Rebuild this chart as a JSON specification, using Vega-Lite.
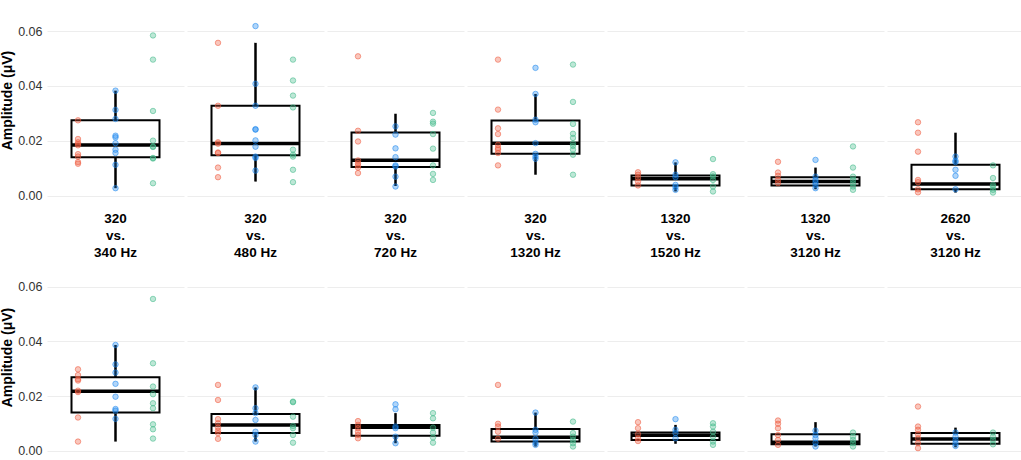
{
  "$schema": "https://vega.github.io/schema/vega-lite/v6.json",
  "background": "white",
  "padding": {"left": 0, "top": 0, "right": 0, "bottom": 0},
  "spacing": 0,
  "datasets": {
    "amp": [
      {"r": "top", "pair": "320 vs. 340 Hz", "lo": 0.0028, "q1": 0.0141, "med": 0.0185, "q3": 0.0275, "hi": 0.0383},
      {"r": "top", "pair": "320 vs. 480 Hz", "lo": 0.0052, "q1": 0.0148, "med": 0.0191, "q3": 0.0328, "hi": 0.0557},
      {"r": "top", "pair": "320 vs. 720 Hz", "lo": 0.0036, "q1": 0.0105, "med": 0.013, "q3": 0.0231, "hi": 0.0299},
      {"r": "top", "pair": "320 vs. 1320 Hz", "lo": 0.0077, "q1": 0.0153, "med": 0.0192, "q3": 0.0274, "hi": 0.0371},
      {"r": "top", "pair": "1320 vs. 1520 Hz", "lo": 0.0016, "q1": 0.0038, "med": 0.0062, "q3": 0.0074, "hi": 0.0122},
      {"r": "top", "pair": "1320 vs. 3120 Hz", "lo": 0.0024, "q1": 0.0038, "med": 0.0052, "q3": 0.0068, "hi": 0.0103},
      {"r": "top", "pair": "2620 vs. 3120 Hz", "lo": 0.0012, "q1": 0.0024, "med": 0.0043, "q3": 0.0113, "hi": 0.023},
      {"r": "bottom", "pair": "320 vs. 340 Hz", "lo": 0.0034, "q1": 0.014, "med": 0.0218, "q3": 0.0269, "hi": 0.0387},
      {"r": "bottom", "pair": "320 vs. 480 Hz", "lo": 0.0034, "q1": 0.0065, "med": 0.0095, "q3": 0.0135, "hi": 0.0232},
      {"r": "bottom", "pair": "320 vs. 720 Hz", "lo": 0.0028, "q1": 0.0055, "med": 0.0086, "q3": 0.0095, "hi": 0.0138},
      {"r": "bottom", "pair": "320 vs. 1320 Hz", "lo": 0.0016, "q1": 0.0034, "med": 0.005, "q3": 0.008, "hi": 0.014},
      {"r": "bottom", "pair": "1320 vs. 1520 Hz", "lo": 0.0026, "q1": 0.004, "med": 0.0057, "q3": 0.0067, "hi": 0.0095},
      {"r": "bottom", "pair": "1320 vs. 3120 Hz", "lo": 0.0016, "q1": 0.0024, "med": 0.0032, "q3": 0.0061, "hi": 0.0105},
      {"r": "bottom", "pair": "2620 vs. 3120 Hz", "lo": 0.0013, "q1": 0.0026, "med": 0.0043, "q3": 0.0065, "hi": 0.0085},

      {"r": "top", "pair": "320 vs. 340 Hz", "g": "g1", "v": 0.0275},
      {"r": "top", "pair": "320 vs. 340 Hz", "g": "g1", "v": 0.0207},
      {"r": "top", "pair": "320 vs. 340 Hz", "g": "g1", "v": 0.0195},
      {"r": "top", "pair": "320 vs. 340 Hz", "g": "g1", "v": 0.0189},
      {"r": "top", "pair": "320 vs. 340 Hz", "g": "g1", "v": 0.0184},
      {"r": "top", "pair": "320 vs. 340 Hz", "g": "g1", "v": 0.0152},
      {"r": "top", "pair": "320 vs. 340 Hz", "g": "g1", "v": 0.0143},
      {"r": "top", "pair": "320 vs. 340 Hz", "g": "g1", "v": 0.0123},
      {"r": "top", "pair": "320 vs. 340 Hz", "g": "g1", "v": 0.0117},
      {"r": "top", "pair": "320 vs. 340 Hz", "g": "g2", "v": 0.0383},
      {"r": "top", "pair": "320 vs. 340 Hz", "g": "g2", "v": 0.0313},
      {"r": "top", "pair": "320 vs. 340 Hz", "g": "g2", "v": 0.028},
      {"r": "top", "pair": "320 vs. 340 Hz", "g": "g2", "v": 0.0219},
      {"r": "top", "pair": "320 vs. 340 Hz", "g": "g2", "v": 0.0213},
      {"r": "top", "pair": "320 vs. 340 Hz", "g": "g2", "v": 0.0192},
      {"r": "top", "pair": "320 vs. 340 Hz", "g": "g2", "v": 0.0168},
      {"r": "top", "pair": "320 vs. 340 Hz", "g": "g2", "v": 0.0156},
      {"r": "top", "pair": "320 vs. 340 Hz", "g": "g2", "v": 0.0113},
      {"r": "top", "pair": "320 vs. 340 Hz", "g": "g2", "v": 0.0028},
      {"r": "top", "pair": "320 vs. 340 Hz", "g": "g3", "v": 0.0584},
      {"r": "top", "pair": "320 vs. 340 Hz", "g": "g3", "v": 0.0496},
      {"r": "top", "pair": "320 vs. 340 Hz", "g": "g3", "v": 0.0309},
      {"r": "top", "pair": "320 vs. 340 Hz", "g": "g3", "v": 0.0201},
      {"r": "top", "pair": "320 vs. 340 Hz", "g": "g3", "v": 0.018},
      {"r": "top", "pair": "320 vs. 340 Hz", "g": "g3", "v": 0.0178},
      {"r": "top", "pair": "320 vs. 340 Hz", "g": "g3", "v": 0.0138},
      {"r": "top", "pair": "320 vs. 340 Hz", "g": "g3", "v": 0.0136},
      {"r": "top", "pair": "320 vs. 340 Hz", "g": "g3", "v": 0.0046},

      {"r": "top", "pair": "320 vs. 480 Hz", "g": "g1", "v": 0.0557},
      {"r": "top", "pair": "320 vs. 480 Hz", "g": "g1", "v": 0.0328},
      {"r": "top", "pair": "320 vs. 480 Hz", "g": "g1", "v": 0.0195},
      {"r": "top", "pair": "320 vs. 480 Hz", "g": "g1", "v": 0.019},
      {"r": "top", "pair": "320 vs. 480 Hz", "g": "g1", "v": 0.0158},
      {"r": "top", "pair": "320 vs. 480 Hz", "g": "g1", "v": 0.0156},
      {"r": "top", "pair": "320 vs. 480 Hz", "g": "g1", "v": 0.0103},
      {"r": "top", "pair": "320 vs. 480 Hz", "g": "g1", "v": 0.0068},
      {"r": "top", "pair": "320 vs. 480 Hz", "g": "g2", "v": 0.0618},
      {"r": "top", "pair": "320 vs. 480 Hz", "g": "g2", "v": 0.0408},
      {"r": "top", "pair": "320 vs. 480 Hz", "g": "g2", "v": 0.0328},
      {"r": "top", "pair": "320 vs. 480 Hz", "g": "g2", "v": 0.0243},
      {"r": "top", "pair": "320 vs. 480 Hz", "g": "g2", "v": 0.0241},
      {"r": "top", "pair": "320 vs. 480 Hz", "g": "g2", "v": 0.0202},
      {"r": "top", "pair": "320 vs. 480 Hz", "g": "g2", "v": 0.0179},
      {"r": "top", "pair": "320 vs. 480 Hz", "g": "g2", "v": 0.0143},
      {"r": "top", "pair": "320 vs. 480 Hz", "g": "g2", "v": 0.0138},
      {"r": "top", "pair": "320 vs. 480 Hz", "g": "g2", "v": 0.0092},
      {"r": "top", "pair": "320 vs. 480 Hz", "g": "g3", "v": 0.0496},
      {"r": "top", "pair": "320 vs. 480 Hz", "g": "g3", "v": 0.042},
      {"r": "top", "pair": "320 vs. 480 Hz", "g": "g3", "v": 0.0365},
      {"r": "top", "pair": "320 vs. 480 Hz", "g": "g3", "v": 0.0322},
      {"r": "top", "pair": "320 vs. 480 Hz", "g": "g3", "v": 0.0168},
      {"r": "top", "pair": "320 vs. 480 Hz", "g": "g3", "v": 0.015},
      {"r": "top", "pair": "320 vs. 480 Hz", "g": "g3", "v": 0.0143},
      {"r": "top", "pair": "320 vs. 480 Hz", "g": "g3", "v": 0.0095},
      {"r": "top", "pair": "320 vs. 480 Hz", "g": "g3", "v": 0.005},

      {"r": "top", "pair": "320 vs. 720 Hz", "g": "g1", "v": 0.0508},
      {"r": "top", "pair": "320 vs. 720 Hz", "g": "g1", "v": 0.0237},
      {"r": "top", "pair": "320 vs. 720 Hz", "g": "g1", "v": 0.0198},
      {"r": "top", "pair": "320 vs. 720 Hz", "g": "g1", "v": 0.0129},
      {"r": "top", "pair": "320 vs. 720 Hz", "g": "g1", "v": 0.0119},
      {"r": "top", "pair": "320 vs. 720 Hz", "g": "g1", "v": 0.0111},
      {"r": "top", "pair": "320 vs. 720 Hz", "g": "g1", "v": 0.0103},
      {"r": "top", "pair": "320 vs. 720 Hz", "g": "g1", "v": 0.0083},
      {"r": "top", "pair": "320 vs. 720 Hz", "g": "g2", "v": 0.0253},
      {"r": "top", "pair": "320 vs. 720 Hz", "g": "g2", "v": 0.0223},
      {"r": "top", "pair": "320 vs. 720 Hz", "g": "g2", "v": 0.0173},
      {"r": "top", "pair": "320 vs. 720 Hz", "g": "g2", "v": 0.0141},
      {"r": "top", "pair": "320 vs. 720 Hz", "g": "g2", "v": 0.0111},
      {"r": "top", "pair": "320 vs. 720 Hz", "g": "g2", "v": 0.0107},
      {"r": "top", "pair": "320 vs. 720 Hz", "g": "g2", "v": 0.007},
      {"r": "top", "pair": "320 vs. 720 Hz", "g": "g2", "v": 0.0034},
      {"r": "top", "pair": "320 vs. 720 Hz", "g": "g3", "v": 0.0302},
      {"r": "top", "pair": "320 vs. 720 Hz", "g": "g3", "v": 0.027},
      {"r": "top", "pair": "320 vs. 720 Hz", "g": "g3", "v": 0.0263},
      {"r": "top", "pair": "320 vs. 720 Hz", "g": "g3", "v": 0.0225},
      {"r": "top", "pair": "320 vs. 720 Hz", "g": "g3", "v": 0.0172},
      {"r": "top", "pair": "320 vs. 720 Hz", "g": "g3", "v": 0.0111},
      {"r": "top", "pair": "320 vs. 720 Hz", "g": "g3", "v": 0.008},
      {"r": "top", "pair": "320 vs. 720 Hz", "g": "g3", "v": 0.0058},

      {"r": "top", "pair": "320 vs. 1320 Hz", "g": "g1", "v": 0.0496},
      {"r": "top", "pair": "320 vs. 1320 Hz", "g": "g1", "v": 0.0314},
      {"r": "top", "pair": "320 vs. 1320 Hz", "g": "g1", "v": 0.0246},
      {"r": "top", "pair": "320 vs. 1320 Hz", "g": "g1", "v": 0.0225},
      {"r": "top", "pair": "320 vs. 1320 Hz", "g": "g1", "v": 0.0186},
      {"r": "top", "pair": "320 vs. 1320 Hz", "g": "g1", "v": 0.0174},
      {"r": "top", "pair": "320 vs. 1320 Hz", "g": "g1", "v": 0.0168},
      {"r": "top", "pair": "320 vs. 1320 Hz", "g": "g1", "v": 0.0156},
      {"r": "top", "pair": "320 vs. 1320 Hz", "g": "g1", "v": 0.0111},
      {"r": "top", "pair": "320 vs. 1320 Hz", "g": "g2", "v": 0.0466},
      {"r": "top", "pair": "320 vs. 1320 Hz", "g": "g2", "v": 0.0371},
      {"r": "top", "pair": "320 vs. 1320 Hz", "g": "g2", "v": 0.0277},
      {"r": "top", "pair": "320 vs. 1320 Hz", "g": "g2", "v": 0.0268},
      {"r": "top", "pair": "320 vs. 1320 Hz", "g": "g2", "v": 0.0192},
      {"r": "top", "pair": "320 vs. 1320 Hz", "g": "g2", "v": 0.0153},
      {"r": "top", "pair": "320 vs. 1320 Hz", "g": "g2", "v": 0.0143},
      {"r": "top", "pair": "320 vs. 1320 Hz", "g": "g2", "v": 0.0135},
      {"r": "top", "pair": "320 vs. 1320 Hz", "g": "g3", "v": 0.0478},
      {"r": "top", "pair": "320 vs. 1320 Hz", "g": "g3", "v": 0.0342},
      {"r": "top", "pair": "320 vs. 1320 Hz", "g": "g3", "v": 0.0262},
      {"r": "top", "pair": "320 vs. 1320 Hz", "g": "g3", "v": 0.0226},
      {"r": "top", "pair": "320 vs. 1320 Hz", "g": "g3", "v": 0.0211},
      {"r": "top", "pair": "320 vs. 1320 Hz", "g": "g3", "v": 0.019},
      {"r": "top", "pair": "320 vs. 1320 Hz", "g": "g3", "v": 0.0182},
      {"r": "top", "pair": "320 vs. 1320 Hz", "g": "g3", "v": 0.0168},
      {"r": "top", "pair": "320 vs. 1320 Hz", "g": "g3", "v": 0.015},
      {"r": "top", "pair": "320 vs. 1320 Hz", "g": "g3", "v": 0.0077},

      {"r": "top", "pair": "1320 vs. 1520 Hz", "g": "g1", "v": 0.0086},
      {"r": "top", "pair": "1320 vs. 1520 Hz", "g": "g1", "v": 0.0077},
      {"r": "top", "pair": "1320 vs. 1520 Hz", "g": "g1", "v": 0.0065},
      {"r": "top", "pair": "1320 vs. 1520 Hz", "g": "g1", "v": 0.0052},
      {"r": "top", "pair": "1320 vs. 1520 Hz", "g": "g1", "v": 0.0038},
      {"r": "top", "pair": "1320 vs. 1520 Hz", "g": "g2", "v": 0.0122},
      {"r": "top", "pair": "1320 vs. 1520 Hz", "g": "g2", "v": 0.0077},
      {"r": "top", "pair": "1320 vs. 1520 Hz", "g": "g2", "v": 0.0068},
      {"r": "top", "pair": "1320 vs. 1520 Hz", "g": "g2", "v": 0.004},
      {"r": "top", "pair": "1320 vs. 1520 Hz", "g": "g2", "v": 0.0032},
      {"r": "top", "pair": "1320 vs. 1520 Hz", "g": "g2", "v": 0.0022},
      {"r": "top", "pair": "1320 vs. 1520 Hz", "g": "g3", "v": 0.0134},
      {"r": "top", "pair": "1320 vs. 1520 Hz", "g": "g3", "v": 0.0079},
      {"r": "top", "pair": "1320 vs. 1520 Hz", "g": "g3", "v": 0.0071},
      {"r": "top", "pair": "1320 vs. 1520 Hz", "g": "g3", "v": 0.0058},
      {"r": "top", "pair": "1320 vs. 1520 Hz", "g": "g3", "v": 0.0034},
      {"r": "top", "pair": "1320 vs. 1520 Hz", "g": "g3", "v": 0.0016},

      {"r": "top", "pair": "1320 vs. 3120 Hz", "g": "g1", "v": 0.0124},
      {"r": "top", "pair": "1320 vs. 3120 Hz", "g": "g1", "v": 0.0085},
      {"r": "top", "pair": "1320 vs. 3120 Hz", "g": "g1", "v": 0.0073},
      {"r": "top", "pair": "1320 vs. 3120 Hz", "g": "g1", "v": 0.0058},
      {"r": "top", "pair": "1320 vs. 3120 Hz", "g": "g1", "v": 0.0046},
      {"r": "top", "pair": "1320 vs. 3120 Hz", "g": "g2", "v": 0.0131},
      {"r": "top", "pair": "1320 vs. 3120 Hz", "g": "g2", "v": 0.007},
      {"r": "top", "pair": "1320 vs. 3120 Hz", "g": "g2", "v": 0.0058},
      {"r": "top", "pair": "1320 vs. 3120 Hz", "g": "g2", "v": 0.0049},
      {"r": "top", "pair": "1320 vs. 3120 Hz", "g": "g2", "v": 0.004},
      {"r": "top", "pair": "1320 vs. 3120 Hz", "g": "g2", "v": 0.0028},
      {"r": "top", "pair": "1320 vs. 3120 Hz", "g": "g3", "v": 0.018},
      {"r": "top", "pair": "1320 vs. 3120 Hz", "g": "g3", "v": 0.0103},
      {"r": "top", "pair": "1320 vs. 3120 Hz", "g": "g3", "v": 0.007},
      {"r": "top", "pair": "1320 vs. 3120 Hz", "g": "g3", "v": 0.0058},
      {"r": "top", "pair": "1320 vs. 3120 Hz", "g": "g3", "v": 0.0046},
      {"r": "top", "pair": "1320 vs. 3120 Hz", "g": "g3", "v": 0.0034},
      {"r": "top", "pair": "1320 vs. 3120 Hz", "g": "g3", "v": 0.0022},

      {"r": "top", "pair": "2620 vs. 3120 Hz", "g": "g1", "v": 0.0268},
      {"r": "top", "pair": "2620 vs. 3120 Hz", "g": "g1", "v": 0.023},
      {"r": "top", "pair": "2620 vs. 3120 Hz", "g": "g1", "v": 0.0161},
      {"r": "top", "pair": "2620 vs. 3120 Hz", "g": "g1", "v": 0.0058},
      {"r": "top", "pair": "2620 vs. 3120 Hz", "g": "g1", "v": 0.005},
      {"r": "top", "pair": "2620 vs. 3120 Hz", "g": "g1", "v": 0.0024},
      {"r": "top", "pair": "2620 vs. 3120 Hz", "g": "g1", "v": 0.0013},
      {"r": "top", "pair": "2620 vs. 3120 Hz", "g": "g2", "v": 0.0143},
      {"r": "top", "pair": "2620 vs. 3120 Hz", "g": "g2", "v": 0.0128},
      {"r": "top", "pair": "2620 vs. 3120 Hz", "g": "g2", "v": 0.0123},
      {"r": "top", "pair": "2620 vs. 3120 Hz", "g": "g2", "v": 0.0095},
      {"r": "top", "pair": "2620 vs. 3120 Hz", "g": "g2", "v": 0.0073},
      {"r": "top", "pair": "2620 vs. 3120 Hz", "g": "g2", "v": 0.0024},
      {"r": "top", "pair": "2620 vs. 3120 Hz", "g": "g3", "v": 0.0111},
      {"r": "top", "pair": "2620 vs. 3120 Hz", "g": "g3", "v": 0.0065},
      {"r": "top", "pair": "2620 vs. 3120 Hz", "g": "g3", "v": 0.004},
      {"r": "top", "pair": "2620 vs. 3120 Hz", "g": "g3", "v": 0.0034},
      {"r": "top", "pair": "2620 vs. 3120 Hz", "g": "g3", "v": 0.0022},
      {"r": "top", "pair": "2620 vs. 3120 Hz", "g": "g3", "v": 0.0012},

      {"r": "bottom", "pair": "320 vs. 340 Hz", "g": "g1", "v": 0.0298},
      {"r": "bottom", "pair": "320 vs. 340 Hz", "g": "g1", "v": 0.0277},
      {"r": "bottom", "pair": "320 vs. 340 Hz", "g": "g1", "v": 0.0262},
      {"r": "bottom", "pair": "320 vs. 340 Hz", "g": "g1", "v": 0.0257},
      {"r": "bottom", "pair": "320 vs. 340 Hz", "g": "g1", "v": 0.022},
      {"r": "bottom", "pair": "320 vs. 340 Hz", "g": "g1", "v": 0.0215},
      {"r": "bottom", "pair": "320 vs. 340 Hz", "g": "g1", "v": 0.0122},
      {"r": "bottom", "pair": "320 vs. 340 Hz", "g": "g1", "v": 0.0034},
      {"r": "bottom", "pair": "320 vs. 340 Hz", "g": "g2", "v": 0.0387},
      {"r": "bottom", "pair": "320 vs. 340 Hz", "g": "g2", "v": 0.0316},
      {"r": "bottom", "pair": "320 vs. 340 Hz", "g": "g2", "v": 0.0286},
      {"r": "bottom", "pair": "320 vs. 340 Hz", "g": "g2", "v": 0.0245},
      {"r": "bottom", "pair": "320 vs. 340 Hz", "g": "g2", "v": 0.0198},
      {"r": "bottom", "pair": "320 vs. 340 Hz", "g": "g2", "v": 0.0153},
      {"r": "bottom", "pair": "320 vs. 340 Hz", "g": "g2", "v": 0.0147},
      {"r": "bottom", "pair": "320 vs. 340 Hz", "g": "g2", "v": 0.0117},
      {"r": "bottom", "pair": "320 vs. 340 Hz", "g": "g3", "v": 0.0555},
      {"r": "bottom", "pair": "320 vs. 340 Hz", "g": "g3", "v": 0.032},
      {"r": "bottom", "pair": "320 vs. 340 Hz", "g": "g3", "v": 0.0235},
      {"r": "bottom", "pair": "320 vs. 340 Hz", "g": "g3", "v": 0.0207},
      {"r": "bottom", "pair": "320 vs. 340 Hz", "g": "g3", "v": 0.0174},
      {"r": "bottom", "pair": "320 vs. 340 Hz", "g": "g3", "v": 0.0156},
      {"r": "bottom", "pair": "320 vs. 340 Hz", "g": "g3", "v": 0.0097},
      {"r": "bottom", "pair": "320 vs. 340 Hz", "g": "g3", "v": 0.0079},
      {"r": "bottom", "pair": "320 vs. 340 Hz", "g": "g3", "v": 0.0045},

      {"r": "bottom", "pair": "320 vs. 480 Hz", "g": "g1", "v": 0.0241},
      {"r": "bottom", "pair": "320 vs. 480 Hz", "g": "g1", "v": 0.0186},
      {"r": "bottom", "pair": "320 vs. 480 Hz", "g": "g1", "v": 0.0116},
      {"r": "bottom", "pair": "320 vs. 480 Hz", "g": "g1", "v": 0.0101},
      {"r": "bottom", "pair": "320 vs. 480 Hz", "g": "g1", "v": 0.0086},
      {"r": "bottom", "pair": "320 vs. 480 Hz", "g": "g1", "v": 0.0074},
      {"r": "bottom", "pair": "320 vs. 480 Hz", "g": "g1", "v": 0.0065},
      {"r": "bottom", "pair": "320 vs. 480 Hz", "g": "g1", "v": 0.0044},
      {"r": "bottom", "pair": "320 vs. 480 Hz", "g": "g2", "v": 0.0232},
      {"r": "bottom", "pair": "320 vs. 480 Hz", "g": "g2", "v": 0.0156},
      {"r": "bottom", "pair": "320 vs. 480 Hz", "g": "g2", "v": 0.0138},
      {"r": "bottom", "pair": "320 vs. 480 Hz", "g": "g2", "v": 0.0113},
      {"r": "bottom", "pair": "320 vs. 480 Hz", "g": "g2", "v": 0.007},
      {"r": "bottom", "pair": "320 vs. 480 Hz", "g": "g2", "v": 0.0058},
      {"r": "bottom", "pair": "320 vs. 480 Hz", "g": "g2", "v": 0.0034},
      {"r": "bottom", "pair": "320 vs. 480 Hz", "g": "g3", "v": 0.018},
      {"r": "bottom", "pair": "320 vs. 480 Hz", "g": "g3", "v": 0.0178},
      {"r": "bottom", "pair": "320 vs. 480 Hz", "g": "g3", "v": 0.0125},
      {"r": "bottom", "pair": "320 vs. 480 Hz", "g": "g3", "v": 0.0091},
      {"r": "bottom", "pair": "320 vs. 480 Hz", "g": "g3", "v": 0.0083},
      {"r": "bottom", "pair": "320 vs. 480 Hz", "g": "g3", "v": 0.0058},
      {"r": "bottom", "pair": "320 vs. 480 Hz", "g": "g3", "v": 0.003},

      {"r": "bottom", "pair": "320 vs. 720 Hz", "g": "g1", "v": 0.0109},
      {"r": "bottom", "pair": "320 vs. 720 Hz", "g": "g1", "v": 0.0095},
      {"r": "bottom", "pair": "320 vs. 720 Hz", "g": "g1", "v": 0.0083},
      {"r": "bottom", "pair": "320 vs. 720 Hz", "g": "g1", "v": 0.007},
      {"r": "bottom", "pair": "320 vs. 720 Hz", "g": "g1", "v": 0.0058},
      {"r": "bottom", "pair": "320 vs. 720 Hz", "g": "g1", "v": 0.0046},
      {"r": "bottom", "pair": "320 vs. 720 Hz", "g": "g2", "v": 0.017},
      {"r": "bottom", "pair": "320 vs. 720 Hz", "g": "g2", "v": 0.0152},
      {"r": "bottom", "pair": "320 vs. 720 Hz", "g": "g2", "v": 0.0089},
      {"r": "bottom", "pair": "320 vs. 720 Hz", "g": "g2", "v": 0.0083},
      {"r": "bottom", "pair": "320 vs. 720 Hz", "g": "g2", "v": 0.0052},
      {"r": "bottom", "pair": "320 vs. 720 Hz", "g": "g2", "v": 0.0028},
      {"r": "bottom", "pair": "320 vs. 720 Hz", "g": "g3", "v": 0.0138},
      {"r": "bottom", "pair": "320 vs. 720 Hz", "g": "g3", "v": 0.0119},
      {"r": "bottom", "pair": "320 vs. 720 Hz", "g": "g3", "v": 0.0085},
      {"r": "bottom", "pair": "320 vs. 720 Hz", "g": "g3", "v": 0.0067},
      {"r": "bottom", "pair": "320 vs. 720 Hz", "g": "g3", "v": 0.0049},
      {"r": "bottom", "pair": "320 vs. 720 Hz", "g": "g3", "v": 0.003},

      {"r": "bottom", "pair": "320 vs. 1320 Hz", "g": "g1", "v": 0.0241},
      {"r": "bottom", "pair": "320 vs. 1320 Hz", "g": "g1", "v": 0.0099},
      {"r": "bottom", "pair": "320 vs. 1320 Hz", "g": "g1", "v": 0.0089},
      {"r": "bottom", "pair": "320 vs. 1320 Hz", "g": "g1", "v": 0.007},
      {"r": "bottom", "pair": "320 vs. 1320 Hz", "g": "g1", "v": 0.0044},
      {"r": "bottom", "pair": "320 vs. 1320 Hz", "g": "g2", "v": 0.014},
      {"r": "bottom", "pair": "320 vs. 1320 Hz", "g": "g2", "v": 0.0077},
      {"r": "bottom", "pair": "320 vs. 1320 Hz", "g": "g2", "v": 0.0067},
      {"r": "bottom", "pair": "320 vs. 1320 Hz", "g": "g2", "v": 0.0044},
      {"r": "bottom", "pair": "320 vs. 1320 Hz", "g": "g2", "v": 0.003},
      {"r": "bottom", "pair": "320 vs. 1320 Hz", "g": "g2", "v": 0.0022},
      {"r": "bottom", "pair": "320 vs. 1320 Hz", "g": "g3", "v": 0.0107},
      {"r": "bottom", "pair": "320 vs. 1320 Hz", "g": "g3", "v": 0.0065},
      {"r": "bottom", "pair": "320 vs. 1320 Hz", "g": "g3", "v": 0.0052},
      {"r": "bottom", "pair": "320 vs. 1320 Hz", "g": "g3", "v": 0.004},
      {"r": "bottom", "pair": "320 vs. 1320 Hz", "g": "g3", "v": 0.0028},
      {"r": "bottom", "pair": "320 vs. 1320 Hz", "g": "g3", "v": 0.0016},

      {"r": "bottom", "pair": "1320 vs. 1520 Hz", "g": "g1", "v": 0.0105},
      {"r": "bottom", "pair": "1320 vs. 1520 Hz", "g": "g1", "v": 0.0083},
      {"r": "bottom", "pair": "1320 vs. 1520 Hz", "g": "g1", "v": 0.0061},
      {"r": "bottom", "pair": "1320 vs. 1520 Hz", "g": "g1", "v": 0.0046},
      {"r": "bottom", "pair": "1320 vs. 1520 Hz", "g": "g1", "v": 0.0036},
      {"r": "bottom", "pair": "1320 vs. 1520 Hz", "g": "g2", "v": 0.0116},
      {"r": "bottom", "pair": "1320 vs. 1520 Hz", "g": "g2", "v": 0.0077},
      {"r": "bottom", "pair": "1320 vs. 1520 Hz", "g": "g2", "v": 0.0065},
      {"r": "bottom", "pair": "1320 vs. 1520 Hz", "g": "g2", "v": 0.0046},
      {"r": "bottom", "pair": "1320 vs. 1520 Hz", "g": "g3", "v": 0.0101},
      {"r": "bottom", "pair": "1320 vs. 1520 Hz", "g": "g3", "v": 0.0089},
      {"r": "bottom", "pair": "1320 vs. 1520 Hz", "g": "g3", "v": 0.007},
      {"r": "bottom", "pair": "1320 vs. 1520 Hz", "g": "g3", "v": 0.0052},
      {"r": "bottom", "pair": "1320 vs. 1520 Hz", "g": "g3", "v": 0.0034},
      {"r": "bottom", "pair": "1320 vs. 1520 Hz", "g": "g3", "v": 0.0022},

      {"r": "bottom", "pair": "1320 vs. 3120 Hz", "g": "g1", "v": 0.0111},
      {"r": "bottom", "pair": "1320 vs. 3120 Hz", "g": "g1", "v": 0.0099},
      {"r": "bottom", "pair": "1320 vs. 3120 Hz", "g": "g1", "v": 0.0083},
      {"r": "bottom", "pair": "1320 vs. 3120 Hz", "g": "g1", "v": 0.0058},
      {"r": "bottom", "pair": "1320 vs. 3120 Hz", "g": "g1", "v": 0.004},
      {"r": "bottom", "pair": "1320 vs. 3120 Hz", "g": "g1", "v": 0.0022},
      {"r": "bottom", "pair": "1320 vs. 3120 Hz", "g": "g2", "v": 0.0074},
      {"r": "bottom", "pair": "1320 vs. 3120 Hz", "g": "g2", "v": 0.0058},
      {"r": "bottom", "pair": "1320 vs. 3120 Hz", "g": "g2", "v": 0.0046},
      {"r": "bottom", "pair": "1320 vs. 3120 Hz", "g": "g2", "v": 0.003},
      {"r": "bottom", "pair": "1320 vs. 3120 Hz", "g": "g2", "v": 0.0016},
      {"r": "bottom", "pair": "1320 vs. 3120 Hz", "g": "g3", "v": 0.0067},
      {"r": "bottom", "pair": "1320 vs. 3120 Hz", "g": "g3", "v": 0.0052},
      {"r": "bottom", "pair": "1320 vs. 3120 Hz", "g": "g3", "v": 0.004},
      {"r": "bottom", "pair": "1320 vs. 3120 Hz", "g": "g3", "v": 0.0028},
      {"r": "bottom", "pair": "1320 vs. 3120 Hz", "g": "g3", "v": 0.0016},

      {"r": "bottom", "pair": "2620 vs. 3120 Hz", "g": "g1", "v": 0.0162},
      {"r": "bottom", "pair": "2620 vs. 3120 Hz", "g": "g1", "v": 0.0089},
      {"r": "bottom", "pair": "2620 vs. 3120 Hz", "g": "g1", "v": 0.0077},
      {"r": "bottom", "pair": "2620 vs. 3120 Hz", "g": "g1", "v": 0.0061},
      {"r": "bottom", "pair": "2620 vs. 3120 Hz", "g": "g1", "v": 0.0046},
      {"r": "bottom", "pair": "2620 vs. 3120 Hz", "g": "g1", "v": 0.0028},
      {"r": "bottom", "pair": "2620 vs. 3120 Hz", "g": "g1", "v": 0.001},
      {"r": "bottom", "pair": "2620 vs. 3120 Hz", "g": "g2", "v": 0.0067},
      {"r": "bottom", "pair": "2620 vs. 3120 Hz", "g": "g2", "v": 0.0052},
      {"r": "bottom", "pair": "2620 vs. 3120 Hz", "g": "g2", "v": 0.004},
      {"r": "bottom", "pair": "2620 vs. 3120 Hz", "g": "g2", "v": 0.0028},
      {"r": "bottom", "pair": "2620 vs. 3120 Hz", "g": "g2", "v": 0.0018},
      {"r": "bottom", "pair": "2620 vs. 3120 Hz", "g": "g3", "v": 0.0067},
      {"r": "bottom", "pair": "2620 vs. 3120 Hz", "g": "g3", "v": 0.0052},
      {"r": "bottom", "pair": "2620 vs. 3120 Hz", "g": "g3", "v": 0.004},
      {"r": "bottom", "pair": "2620 vs. 3120 Hz", "g": "g3", "v": 0.0024}
    ]
  },
  "vconcat": [
    {
      "data": {"name": "amp"},
      "transform": [{"filter": "datum.r == 'top'"}],
      "facet": {
        "column": {
          "field": "pair",
          "type": "nominal",
          "sort": ["320 vs. 340 Hz", "320 vs. 480 Hz", "320 vs. 720 Hz", "320 vs. 1320 Hz", "1320 vs. 1520 Hz", "1320 vs. 3120 Hz", "2620 vs. 3120 Hz"],
          "title": null,
          "header": {
            "labelOrient": "bottom",
            "labelExpr": "[split(datum.value, ' vs. ')[0], 'vs.', split(datum.value, ' vs. ')[1]]",
            "labelFont": "Liberation Sans",
            "labelFontSize": 13.5,
            "labelFontWeight": "bold",
            "labelColor": "black",
            "labelLineHeight": 17,
            "labelPadding": 11.5,
            "labelBaseline": "top"
          }
        }
      },
      "spacing": 3,
      "spec": {
        "width": 137,
        "height": 200,
        "layer": [
          {
            "transform": [{"filter": "isValid(datum.med)"}],
            "mark": {"type": "rule", "color": "black", "strokeWidth": 2.5},
            "encoding": {
              "x": {"datum": "g2", "type": "nominal", "scale": {"type": "point", "domain": ["g1", "g2", "g3"], "padding": 0.827}, "axis": null},
              "y": {
                "field": "lo", "type": "quantitative", "title": "Amplitude (μV)",
                "scale": {"domain": [-0.0015, 0.0713], "nice": false, "zero": false},
                "axis": {"values": [0, 0.01, 0.02, 0.03, 0.04, 0.05, 0.06, 0.07], "labelExpr": "round(datum.value * 100) % 2 == 0 ? format(datum.value, '.2f') : ''"}
              },
              "y2": {"field": "hi"}
            }
          },
          {
            "transform": [{"filter": "isValid(datum.med)"}],
            "mark": {"type": "bar", "fill": "white", "stroke": "black", "strokeWidth": 2, "width": 88},
            "encoding": {
              "x": {"datum": "g2", "type": "nominal", "scale": {"type": "point", "domain": ["g1", "g2", "g3"], "padding": 0.827}, "axis": null},
              "y": {"field": "q1", "type": "quantitative", "title": "Amplitude (μV)"},
              "y2": {"field": "q3"}
            }
          },
          {
            "transform": [{"filter": "isValid(datum.med)"}],
            "mark": {"type": "tick", "color": "black", "thickness": 3.5, "size": 88, "opacity": 1},
            "encoding": {
              "x": {"datum": "g2", "type": "nominal", "scale": {"type": "point", "domain": ["g1", "g2", "g3"], "padding": 0.827}, "axis": null},
              "y": {"field": "med", "type": "quantitative", "title": "Amplitude (μV)"}
            }
          },
          {
            "transform": [{"filter": "isValid(datum.v)"}],
            "mark": {"type": "circle", "size": 30, "fillOpacity": 0.35, "strokeWidth": 1, "strokeOpacity": 0.55},
            "encoding": {
              "x": {"field": "g", "type": "nominal", "scale": {"type": "point", "domain": ["g1", "g2", "g3"], "padding": 0.827}, "axis": null},
              "y": {"field": "v", "type": "quantitative", "title": "Amplitude (μV)"},
              "color": {"field": "g", "type": "nominal", "scale": {"domain": ["g1", "g2", "g3"], "range": ["#EF5B3F", "#1C86EE", "#43B98A"]}, "legend": null},
              "stroke": {"field": "g", "type": "nominal", "scale": {"domain": ["g1", "g2", "g3"], "range": ["#EF5B3F", "#1C86EE", "#43B98A"]}, "legend": null}
            }
          }
        ]
      }
    },
    {
      "data": {"name": "amp"},
      "transform": [{"filter": "datum.r == 'bottom'"}],
      "facet": {
        "column": {
          "field": "pair",
          "type": "nominal",
          "sort": ["320 vs. 340 Hz", "320 vs. 480 Hz", "320 vs. 720 Hz", "320 vs. 1320 Hz", "1320 vs. 1520 Hz", "1320 vs. 3120 Hz", "2620 vs. 3120 Hz"],
          "title": null,
          "header": {"labels": false}
        }
      },
      "spacing": 3,
      "spec": {
        "width": 137,
        "height": 196,
        "layer": [
          {
            "transform": [{"filter": "isValid(datum.med)"}],
            "mark": {"type": "rule", "color": "black", "strokeWidth": 2.5},
            "encoding": {
              "x": {"datum": "g2", "type": "nominal", "scale": {"type": "point", "domain": ["g1", "g2", "g3"], "padding": 0.827}, "axis": null},
              "y": {
                "field": "lo", "type": "quantitative", "title": "Amplitude (μV)",
                "scale": {"domain": [-0.0015, 0.0701], "nice": false, "zero": false},
                "axis": {"values": [0, 0.01, 0.02, 0.03, 0.04, 0.05, 0.06, 0.07], "labelExpr": "round(datum.value * 100) % 2 == 0 ? format(datum.value, '.2f') : ''"}
              },
              "y2": {"field": "hi"}
            }
          },
          {
            "transform": [{"filter": "isValid(datum.med)"}],
            "mark": {"type": "bar", "fill": "white", "stroke": "black", "strokeWidth": 2, "width": 88},
            "encoding": {
              "x": {"datum": "g2", "type": "nominal", "scale": {"type": "point", "domain": ["g1", "g2", "g3"], "padding": 0.827}, "axis": null},
              "y": {"field": "q1", "type": "quantitative", "title": "Amplitude (μV)"},
              "y2": {"field": "q3"}
            }
          },
          {
            "transform": [{"filter": "isValid(datum.med)"}],
            "mark": {"type": "tick", "color": "black", "thickness": 3.5, "size": 88, "opacity": 1},
            "encoding": {
              "x": {"datum": "g2", "type": "nominal", "scale": {"type": "point", "domain": ["g1", "g2", "g3"], "padding": 0.827}, "axis": null},
              "y": {"field": "med", "type": "quantitative", "title": "Amplitude (μV)"}
            }
          },
          {
            "transform": [{"filter": "isValid(datum.v)"}],
            "mark": {"type": "circle", "size": 30, "fillOpacity": 0.35, "strokeWidth": 1, "strokeOpacity": 0.55},
            "encoding": {
              "x": {"field": "g", "type": "nominal", "scale": {"type": "point", "domain": ["g1", "g2", "g3"], "padding": 0.827}, "axis": null},
              "y": {"field": "v", "type": "quantitative", "title": "Amplitude (μV)"},
              "color": {"field": "g", "type": "nominal", "scale": {"domain": ["g1", "g2", "g3"], "range": ["#EF5B3F", "#1C86EE", "#43B98A"]}, "legend": null},
              "stroke": {"field": "g", "type": "nominal", "scale": {"domain": ["g1", "g2", "g3"], "range": ["#EF5B3F", "#1C86EE", "#43B98A"]}, "legend": null}
            }
          }
        ]
      }
    }
  ],
  "resolve": {"scale": {"y": "independent"}},
  "config": {
    "font": "Liberation Sans",
    "view": {"stroke": null},
    "axisY": {
      "domain": false,
      "ticks": false,
      "gridColor": "#EDEDED",
      "gridWidth": 1,
      "labelFont": "Liberation Sans",
      "labelFontSize": 12.5,
      "labelColor": "#333333",
      "labelPadding": 5,
      "titleFont": "Liberation Sans",
      "titleFontSize": 14,
      "titleFontWeight": "bold",
      "titleColor": "black",
      "titlePadding": 3
    }
  }
}
